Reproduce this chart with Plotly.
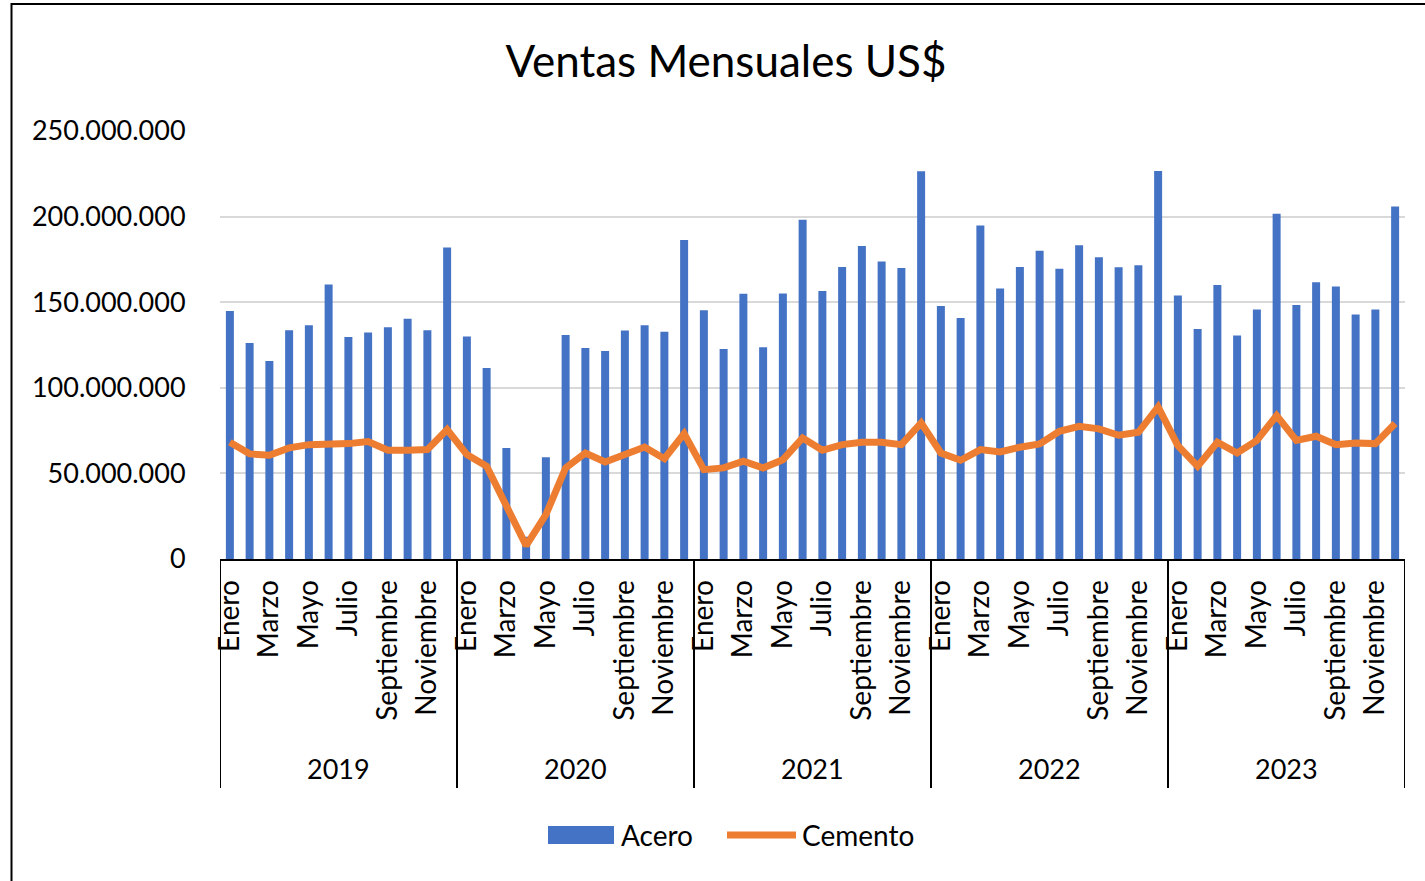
import plotly.graph_objects as go

years = ["2019", "2020", "2021", "2022", "2023"]
months = ["Enero", "Febrero", "Marzo", "Abril", "Mayo", "Junio", "Julio",
          "Agosto", "Septiembre", "Octubre", "Noviembre", "Diciembre"]

acero_2019 = [144.9, 126.2, 115.7, 133.6, 136.5, 160.3, 129.7, 132.3, 135.4, 140.4, 133.6, 181.9]
acero_2020 = [129.9, 111.6, 64.9, 13.0, 59.4, 130.9, 123.3, 121.5, 133.4, 136.5, 132.7, 186.4]
acero_2021 = [145.3, 122.7, 154.9, 123.7, 155.1, 198.1, 156.6, 170.6, 182.9, 173.8, 170.0, 226.5]
acero_2022 = [147.8, 140.8, 194.8, 158.0, 170.6, 180.0, 169.5, 183.3, 176.3, 170.4, 171.6, 226.7]
acero_2023 = [153.9, 134.4, 160.1, 130.5, 145.7, 201.6, 148.4, 161.7, 159.1, 142.8, 145.7, 205.9]

cemento_2019 = [68.2, 61.4, 60.6, 64.9, 66.8, 66.8, 67.4, 68.6, 63.5, 63.5, 63.9, 75.6]
cemento_2020 = [61.0, 54.2, 30.8, 7.8, 25.9, 53.2, 61.9, 56.7, 61.0, 65.4, 58.6, 73.2]
cemento_2021 = [52.2, 53.2, 57.1, 53.2, 58.0, 70.7, 63.5, 66.8, 68.2, 68.2, 66.8, 79.5]
cemento_2022 = [61.9, 57.7, 63.9, 62.5, 65.3, 67.2, 74.6, 77.5, 76.0, 72.3, 74.0, 88.8]
cemento_2023 = [66.2, 54.2, 68.2, 61.9, 69.3, 83.8, 69.3, 71.7, 66.8, 67.8, 67.4, 79.1]

y_ticks = [0, 50_000_000, 100_000_000, 150_000_000, 200_000_000, 250_000_000]

acero = [v * 1e6 for v in acero_2019 + acero_2020 + acero_2021 + acero_2022 + acero_2023]
cemento = [v * 1e6 for v in cemento_2019 + cemento_2020 + cemento_2021 + cemento_2022 + cemento_2023]
n = len(acero)
xs = list(range(n))
labels = [f"{m} {y}" for y in years for m in months]

FONT = "Lato, 'Open Sans', sans-serif"
BLUE = "#4472C4"
ORANGE = "#ED7D31"

fig = go.Figure()
fig.add_trace(go.Bar(x=xs, y=acero, name="Acero", marker_color=BLUE,
                     marker_line_width=0, hovertext=labels))
fig.add_trace(go.Scatter(x=xs, y=cemento, name="Cemento", mode="lines",
                         line=dict(color=ORANGE, width=7), hovertext=labels))

tickvals = [i for i in xs if i % 2 == 0]
ticktext = [months[i % 12] for i in tickvals]

L, R, T, B = 220, 1405, 131, 559
W, H = 1425, 881
pw, ph = R - L, B - T

def py(pix):
    return (B - pix) / ph

def px(pix):
    return (pix - L) / pw

shapes = []
# year dividers
for k in range(len(years) + 1):
    shapes.append(dict(type="line", xref="x", yref="paper",
                       x0=k * 12 - 0.5, x1=k * 12 - 0.5, y0=0, y1=py(788),
                       line=dict(color="black", width=2)))
# outer chart border
shapes.append(dict(type="rect", xref="paper", yref="paper",
                   x0=px(11.5), x1=px(1440), y0=py(4), y1=py(900),
                   line=dict(color="black", width=2), fillcolor="rgba(0,0,0,0)"))
# legend swatches
shapes.append(dict(type="rect", xref="paper", yref="paper",
                   x0=px(548), x1=px(614), y0=py(826), y1=py(844),
                   line=dict(width=0), fillcolor=BLUE))
shapes.append(dict(type="line", xref="paper", yref="paper",
                   x0=px(727), x1=px(796), y0=py(835), y1=py(835),
                   line=dict(color=ORANGE, width=7)))

annotations = []
for k, y in enumerate(years):
    annotations.append(dict(x=k * 12 + 5.5, xref="x", y=py(768), yref="paper",
                            text=y, showarrow=False, yanchor="middle",
                            font=dict(family=FONT, size=27, color="black")))
for name, xpix in [("Acero", 619), ("Cemento", 800)]:
    annotations.append(dict(x=px(xpix), xref="paper", y=py(835), yref="paper",
                            text=name, showarrow=False, xanchor="left", yanchor="middle",
                            font=dict(family=FONT, size=28, color="black")))

fig.update_layout(
    width=W, height=H,
    margin=dict(l=L, r=W - R, t=T, b=H - B),
    paper_bgcolor="white", plot_bgcolor="white",
    separators=",.",
    bargap=0.595,
    showlegend=False,
    title=dict(text="Ventas Mensuales US$", x=726 / W, xref="container", xanchor="center",
               y=1 - 62 / H, yref="container", yanchor="middle",
               font=dict(family=FONT, size=44, color="black")),
    font=dict(family=FONT, size=27, color="black"),
    xaxis=dict(range=[-0.5, n - 0.5], tickmode="array", tickvals=tickvals, ticktext=ticktext,
               tickangle=-90, showgrid=False, showline=True, linecolor="black", linewidth=2,
               ticks="outside", ticklen=8, tickcolor="rgba(0,0,0,0)", zeroline=False,
               tickfont=dict(family=FONT, size=28, color="black")),
    yaxis=dict(range=[0, 250_000_000], tickmode="array", tickvals=y_ticks,
               tickformat=",d", showgrid=True, gridcolor="#D9D9D9", gridwidth=2,
               showline=False, zeroline=False, ticks="outside", ticklen=28,
               tickcolor="rgba(0,0,0,0)",
               tickfont=dict(family=FONT, size=27, color="black")),
    shapes=shapes, annotations=annotations,
)

fig.write_html("out.html", config={"displayModeBar": False},
               post_script="document.body.style.margin='0px';")
